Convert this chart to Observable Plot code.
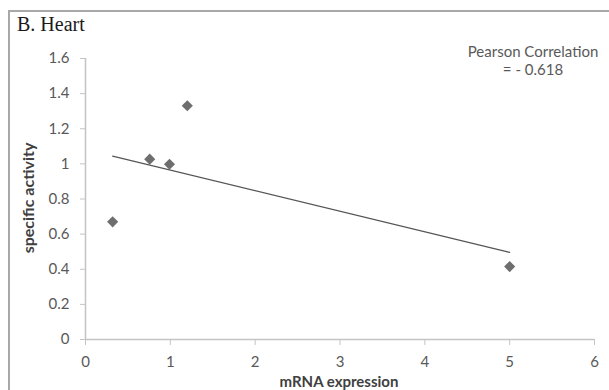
<!DOCTYPE html>
<html>
<head>
<meta charset="utf-8">
<script src="https://cdn.jsdelivr.net/npm/d3@7"></script>
<script src="https://cdn.jsdelivr.net/npm/@observablehq/plot@0.6"></script>
<style>
  html, body { margin: 0; padding: 0; background: #fff; }
  #wrap { position: relative; width: 609px; height: 390px; overflow: hidden; }
  #border { position: absolute; left: 8px; top: 10px; width: 700px; height: 500px;
            border-left: 2px solid #a8a8a8; border-top: 2px solid #a8a8a8; }
  .lbl { position: absolute; white-space: nowrap; }
  #title { left: 17px; top: 13px; font: 20px "Liberation Serif", "Times New Roman", serif; color: #1a1a1a; }
  #pearson { left: 458px; top: 42px; width: 150px; text-align: center; font: 15px Lato, sans-serif; color: #595959; line-height: 18px; }
  #ylab { left: 27px; top: 198px; transform: translate(-50%, -50%) rotate(-90deg); font: bold 16px Lato, sans-serif; color: #404040; }
  #xlab { left: 339px; top: 381px; transform: translate(-50%, -50%); font: bold 15px Lato, sans-serif; color: #404040; line-height: 16px; }
</style>
</head>
<body>
<div id="wrap">
  <div id="border"></div>
</div>
<script>
const mrna = [0.32, 0.757, 0.99, 1.20, 5.0];
const activity = [0.67, 1.027, 0.998, 1.331, 0.415];
const xTicks = [0, 1, 2, 3, 4, 5, 6];
const yTicks = [0, 0.2, 0.4, 0.6, 0.8, 1, 1.2, 1.4, 1.6];
const titleText = "B. Heart";
const xLabel = "mRNA expression";
const yLabel = "specific activity";
const noteLines = ["Pearson Correlation", "= - 0.618"];

const data = mrna.map((x, i) => ({x, y: activity[i]}));

const chart = Plot.plot({
  width: 609,
  height: 390,
  marginLeft: 85,
  marginRight: 15,
  marginTop: 58,
  marginBottom: 51,
  style: {fontFamily: "Lato, sans-serif", fontSize: "15px", background: "transparent"},
  x: {domain: [0, 6]},
  y: {domain: [0, 1.6]},
  marks: [
    Plot.ruleX([0], {stroke: "#c4c4c4", strokeWidth: 1.5}),
    Plot.ruleY([0], {stroke: "#c4c4c4", strokeWidth: 1.5}),
    Plot.axisX({ticks: xTicks, tickSize: 6, tickPadding: 11, stroke: "#c4c4c4", fill: "#595959", color: "#595959", fontSize: 15, tickFormat: d => String(d), label: null}),
    Plot.axisY({ticks: yTicks, tickSize: 5, tickPadding: 11, stroke: "#c4c4c4", fill: "#595959", color: "#595959", fontSize: 15, tickFormat: d => String(d), label: null}),
    Plot.linearRegressionY(data, {x: "x", y: "y", ci: 0, stroke: "#555555", strokeWidth: 1.2}),
    Plot.dot(data, {x: "x", y: "y", symbol: "diamond2", r: 5, fill: "#6e6e6e", stroke: "none"})
  ]
});
chart.style.position = "absolute";
chart.style.left = "0px";
chart.style.top = "0px";
const wrap = document.getElementById("wrap");
wrap.appendChild(chart);

function addLabel(id, html) {
  const d = document.createElement("div");
  d.className = "lbl";
  d.id = id;
  d.innerHTML = html;
  wrap.appendChild(d);
}
addLabel("title", titleText);
addLabel("pearson", noteLines.join("<br>"));
addLabel("ylab", yLabel);
addLabel("xlab", xLabel);
</script>
</body>
</html>
